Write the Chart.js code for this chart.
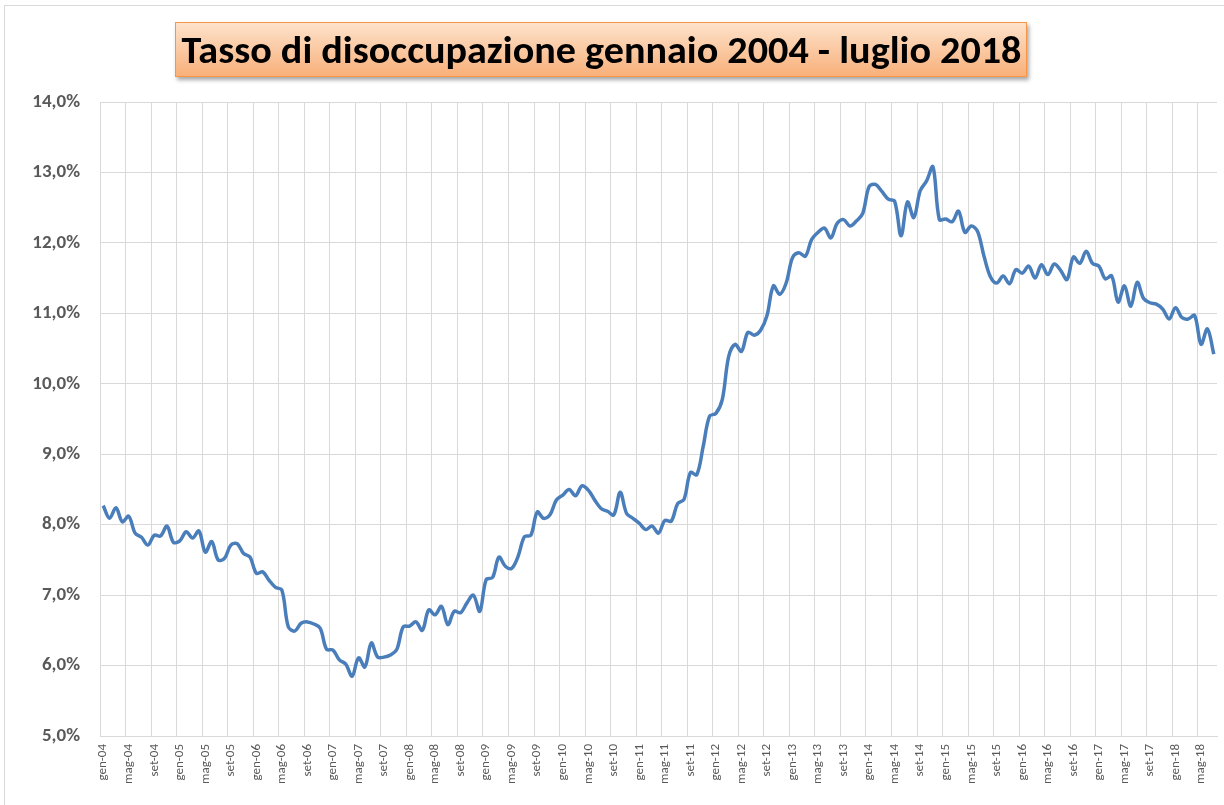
<!DOCTYPE html>
<html lang="it">
<head>
<meta charset="utf-8">
<title>Tasso di disoccupazione gennaio 2004 - luglio 2018</title>
<script src="https://cdn.jsdelivr.net/npm/chart.js@4.4.1/dist/chart.umd.min.js"></script>
<style>
  html, body { margin: 0; padding: 0; background: #fff; overflow: hidden; }
  #wrap { position: relative; width: 1224px; height: 805px; }
  #frame { position: absolute; left: 4px; top: 5px; width: 1240px; height: 820px; border: 1px solid #d9d9d9; box-sizing: border-box; }
  #title {
    position: absolute; left: 175px; top: 22px; width: 852px; height: 55px; box-sizing: border-box;
    border: 1px solid #f79646; background: linear-gradient(#fde2cb, #f8b07a);
    box-shadow: 2px 3px 4px rgba(0,0,0,.35);
    display: flex; align-items: center; justify-content: center; overflow: hidden;
  }
  #title span {
    font-family: Carlito, 'Liberation Sans Narrow', 'Open Sans', sans-serif; font-weight: bold;
    font-size: 38px; color: #000; white-space: nowrap; display: inline-block; transform-origin: center;
  }
  canvas { position: absolute; left: 0; top: 0; }
</style>
</head>
<body>
<div id="wrap">
  <div id="frame"></div>
  <canvas id="chartDisoccupazione" width="1224" height="805"></canvas>
  <div id="title"><span id="titleText">Tasso di disoccupazione gennaio 2004 - luglio 2018</span></div>
</div>
<script>
// Mesi e anni (etichette asse x)
const mesi = ['gen','feb','mar','apr','mag','giu','lug','ago','set','ott','nov','dic'];
const anni = ['04','05','06','07','08','09','10','11','12','13','14','15','16','17','18'];

// Tasso di disoccupazione mensile (%)
const t2004 = [8.27, 8.09, 8.24, 8.04, 8.12, 7.88, 7.82, 7.71, 7.85, 7.84, 7.98, 7.75];
const t2005 = [7.77, 7.90, 7.81, 7.91, 7.61, 7.76, 7.50, 7.52, 7.71, 7.73, 7.59, 7.54];
const t2006 = [7.31, 7.33, 7.21, 7.11, 7.07, 6.55, 6.49, 6.60, 6.62, 6.59, 6.53, 6.23];
const t2007 = [6.22, 6.08, 6.02, 5.85, 6.11, 5.98, 6.32, 6.12, 6.12, 6.15, 6.23, 6.55];
const t2008 = [6.56, 6.62, 6.50, 6.79, 6.72, 6.84, 6.58, 6.77, 6.75, 6.89, 7.00, 6.77];
const t2009 = [7.22, 7.25, 7.54, 7.41, 7.38, 7.55, 7.83, 7.85, 8.18, 8.09, 8.14, 8.35];
const t2010 = [8.42, 8.50, 8.41, 8.55, 8.49, 8.35, 8.23, 8.19, 8.14, 8.46, 8.16, 8.09];
const t2011 = [8.02, 7.93, 7.98, 7.88, 8.06, 8.05, 8.30, 8.36, 8.74, 8.71, 9.11, 9.54];
const t2012 = [9.58, 9.78, 10.39, 10.56, 10.46, 10.73, 10.69, 10.76, 10.97, 11.39, 11.27, 11.43];
const t2013 = [11.79, 11.86, 11.81, 12.05, 12.15, 12.21, 12.07, 12.28, 12.33, 12.24, 12.31, 12.42];
const t2014 = [12.80, 12.83, 12.73, 12.62, 12.59, 12.10, 12.58, 12.36, 12.74, 12.88, 13.08, 12.33];
const t2015 = [12.34, 12.30, 12.45, 12.15, 12.24, 12.16, 11.81, 11.52, 11.43, 11.53, 11.42, 11.62];
const t2016 = [11.57, 11.67, 11.50, 11.69, 11.55, 11.70, 11.61, 11.48, 11.80, 11.71, 11.88, 11.71];
const t2017 = [11.67, 11.49, 11.53, 11.16, 11.39, 11.10, 11.44, 11.21, 11.15, 11.13, 11.06, 10.92];
const t2018 = [11.08, 10.94, 10.92, 10.97, 10.56, 10.78, 10.42];

// Asse y
const yMin = 5, yMax = 14, yStep = 1;

const valori = [].concat(t2004, t2005, t2006, t2007, t2008, t2009, t2010, t2011,
                         t2012, t2013, t2014, t2015, t2016, t2017, t2018);
const etichette = [];
anni.forEach(a => mesi.forEach(m => etichette.push(m + '-' + a)));
etichette.length = valori.length;   // fino a lug-18

const grigio = '#d9d9d9';
const testo = '#595959';
const fontAssi = "Carlito, 'Open Sans', sans-serif";

new Chart(document.getElementById('chartDisoccupazione'), {
  type: 'line',
  data: {
    labels: etichette,
    datasets: [{
      label: 'Tasso di disoccupazione',
      data: valori,
      borderColor: '#4a7ebb',
      borderWidth: 3.5,
      pointRadius: 0,
      tension: 0.35,
      fill: false
    }]
  },
  options: {
    responsive: false,
    animation: false,
    layout: { padding: { top: 102, right: 7, bottom: 0, left: 0 } },
    plugins: { legend: { display: false }, title: { display: false } },
    scales: {
      x: {
        offset: true,
        afterFit: s => { s.height = 69; s.paddingLeft = 0; s.paddingRight = 0; },
        grid: {
          offset: true,
          drawTicks: false,
          color: ctx => (ctx.index !== undefined && ctx.index % 4 === 0) ? grigio : 'rgba(0,0,0,0)'
        },
        border: { color: grigio },
        ticks: {
          autoSkip: false, minRotation: 90, maxRotation: 90, padding: 8,
          color: testo, font: { family: fontAssi, size: 13 },
          callback: (v, i) => i % 4 === 0 ? etichette[i] : ''
        }
      },
      y: {
        min: yMin, max: yMax,
        afterFit: s => { s.width = 100; },
        grid: { color: grigio, drawTicks: false },
        border: { color: grigio },
        ticks: {
          stepSize: yStep, padding: 20, color: testo,
          font: { family: fontAssi, size: 19, weight: 'bold' },
          callback: v => v.toFixed(1).replace('.', ',') + '%'
        }
      }
    }
  }
});

// adatta il titolo alla larghezza del riquadro
const tt = document.getElementById('titleText');
const w = tt.getBoundingClientRect().width;
if (w > 0) tt.style.transform = 'scaleX(' + (840 / w) + ')';
</script>
</body>
</html>
